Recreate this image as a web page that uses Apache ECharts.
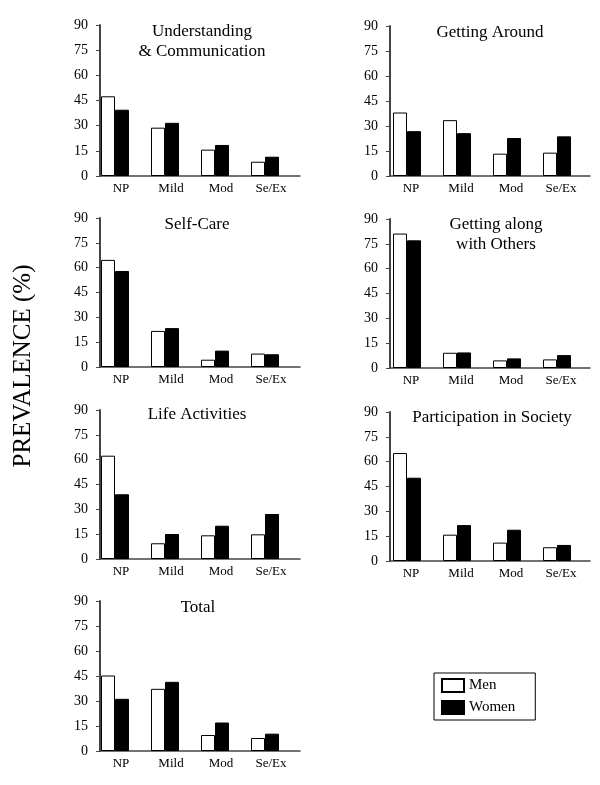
<!DOCTYPE html>
<html>
<head>
<meta charset="utf-8">
<script src="https://cdn.jsdelivr.net/npm/echarts@6/dist/echarts.min.js"></script>
<style>
html,body{margin:0;padding:0;background:#fff;}
#chart{width:600px;height:785px;}
</style>
</head>
<body>
<div id="chart"></div>
<script>
// ---- data ----
const categories = ['NP', 'Mild', 'Mod', 'Se/Ex'];
const yTicks = [0, 15, 30, 45, 60, 75, 90];
const yAxisTitle = 'PREVALENCE (%)';
const panelTitles = [
  'Understanding\n& Communication',
  'Getting Around',
  'Self-Care',
  'Getting along\nwith Others',
  'Life Activities',
  'Participation in Society',
  'Total'
];
const menUnderstanding   = [47.5, 28.8, 15.7, 8.5];
const womenUnderstanding = [39.5, 31.7, 18.5, 11.5];
const menGettingAround   = [38.1, 33.5, 13.4, 14.0];
const womenGettingAround = [26.9, 25.7, 22.8, 23.8];
const menSelfCare        = [64.7, 21.8, 4.4, 8.1];
const womenSelfCare      = [58.0, 23.5, 9.9, 7.7];
const menGettingAlong    = [81.2, 9.2, 4.6, 5.2];
const womenGettingAlong  = [77.1, 9.4, 5.8, 7.8];
const menLifeActivities  = [62.4, 9.5, 14.3, 14.9];
const womenLifeActivities= [39.1, 15.1, 20.1, 27.2];
const menParticipation   = [65.2, 15.9, 11.1, 8.3];
const womenParticipation = [50.3, 21.7, 18.9, 9.7];
const menTotal           = [45.3, 37.3, 9.6, 7.8];
const womenTotal         = [31.3, 41.5, 17.1, 10.4];
const seriesNames = ['Men', 'Women'];

// ---- layout ----
const menData = [menUnderstanding, menGettingAround, menSelfCare, menGettingAlong, menLifeActivities, menParticipation, menTotal];
const womenData = [womenUnderstanding, womenGettingAround, womenSelfCare, womenGettingAlong, womenLifeActivities, womenParticipation, womenTotal];
const grids = [
  {left: 100, top: 25,  width: 200, height: 151},
  {left: 390, top: 26,  width: 200, height: 150},
  {left: 100, top: 218, width: 200, height: 149},
  {left: 390, top: 219, width: 200, height: 149},
  {left: 100, top: 410, width: 200, height: 149},
  {left: 390, top: 412, width: 200, height: 149},
  {left: 100, top: 601, width: 200, height: 150}
];
const titlePos = [
  {x: 202, y: 22}, {x: 490, y: 23}, {x: 197, y: 215}, {x: 496, y: 215},
  {x: 197, y: 405}, {x: 492, y: 408}, {x: 198, y: 598}
];
const FONT = 'Liberation Serif, Times New Roman, serif';
const axisColor = '#444';

const option = {
  animation: false,
  backgroundColor: '#fff',
  textStyle: {fontFamily: FONT},
  grid: grids,
  title: panelTitles.map((t, i) => ({
    text: t,
    left: titlePos[i].x,
    top: titlePos[i].y,
    textAlign: 'center',
    padding: 0,
    textStyle: {fontFamily: FONT, fontSize: 17, fontWeight: 'normal', color: '#000', lineHeight: 20, align: 'center'}
  })),
  graphic: [{
    type: 'text',
    x: 23,
    y: 366,
    rotation: Math.PI / 2,
    style: {
      text: yAxisTitle,
      font: '25px "Liberation Serif", "Times New Roman", serif',
      fill: '#000',
      textAlign: 'center',
      textVerticalAlign: 'middle'
    }
  }],
  xAxis: grids.map((g, i) => ({
    type: 'category',
    gridIndex: i,
    data: categories,
    boundaryGap: true,
    axisLine: {show: true, lineStyle: {color: axisColor, width: 1.5}},
    axisTick: {show: false},
    axisLabel: {color: '#000', fontFamily: FONT, fontSize: 13, margin: 6, padding: [0, 8, 0, 0]},
    splitLine: {show: false}
  })),
  yAxis: grids.map((g, i) => ({
    type: 'value',
    gridIndex: i,
    min: yTicks[0],
    max: yTicks[yTicks.length - 1],
    interval: yTicks[1] - yTicks[0],
    axisLine: {show: true, lineStyle: {color: axisColor, width: 2}},
    axisTick: {show: true, inside: false, length: 4, lineStyle: {color: axisColor, width: 1}},
    axisLabel: {color: '#000', fontFamily: FONT, fontSize: 14, margin: 12},
    splitLine: {show: false}
  })),
  legend: {
    data: seriesNames,
    orient: 'vertical',
    left: 434,
    top: 673,
    borderColor: '#000',
    borderWidth: 1,
    padding: [5, 20, 5, 7],
    itemWidth: 22,
    itemHeight: 13,
    itemGap: 7,
    icon: 'rect',
    textStyle: {fontFamily: FONT, fontSize: 15, color: '#000'}
  },
  series: []
};

grids.forEach((g, i) => {
  option.series.push({
    name: seriesNames[0], type: 'bar', xAxisIndex: i, yAxisIndex: i,
    data: menData[i], barWidth: 14, barGap: '0%',
    itemStyle: {color: '#fff', borderColor: '#000', borderWidth: 1}
  });
  option.series.push({
    name: seriesNames[1], type: 'bar', xAxisIndex: i, yAxisIndex: i,
    data: womenData[i], barWidth: 14, barGap: '0%',
    itemStyle: {color: '#000', borderColor: '#000', borderWidth: 1}
  });
  // spacer (no data) that shifts the pair toward the left of each category
  option.series.push({
    name: 'spacer' + i, type: 'bar', xAxisIndex: i, yAxisIndex: i,
    data: categories.map(() => null), barWidth: g.left < 200 ? 20 : 16, barGap: '0%',
    silent: true, itemStyle: {color: 'rgba(0,0,0,0)'}
  });
});

const chart = echarts.init(document.getElementById('chart'), null, {renderer: 'canvas'});
chart.setOption(option);
</script>
</body>
</html>
